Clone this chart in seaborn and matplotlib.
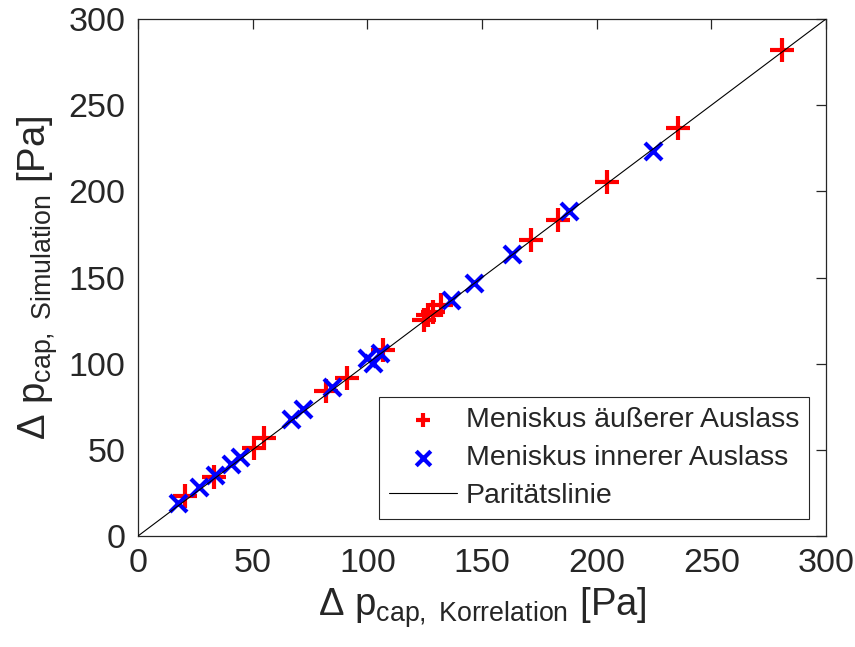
import matplotlib
matplotlib.use("Agg")
import matplotlib.pyplot as plt
import numpy as np
import pandas as pd
import seaborn as sns

# Meniskus am äußeren Auslass: Korrelation vs. Simulation [Pa]
outer_corr = [20.5, 33.0, 50.5, 55.0, 82.0, 91.0, 107.0, 124.5, 126.5, 128.5, 132.0,
              171.5, 183.0, 204.5, 235.5, 281.0]
outer_sim = [23.5, 34.0, 51.0, 57.0, 84.0, 91.5, 108.0, 125.5, 128.0, 130.0, 134.0,
             172.0, 183.5, 205.5, 236.5, 282.0]

# Meniskus am inneren Auslass
inner_corr = [17.5, 26.5, 33.5, 40.5, 44.5, 66.5, 72.0, 84.5, 100.0, 102.5, 105.5,
              136.5, 146.5, 163.0, 188.0, 224.5]
inner_sim = [19.0, 28.5, 35.5, 42.0, 46.0, 68.0, 73.5, 86.5, 103.0, 100.5, 106.0,
             137.0, 147.0, 163.5, 188.5, 223.5]

parity = [0, 300]
ticks = [0, 50, 100, 150, 200, 250, 300]

labels = ["Meniskus äußerer Auslass", "Meniskus innerer Auslass", "Paritätslinie"]

sns.set_theme(style="white")
plt.rcParams["font.family"] = ["Liberation Sans", "DejaVu Sans"]
plt.rcParams["mathtext.fontset"] = "custom"
plt.rcParams["mathtext.rm"] = "Liberation Sans"
plt.rcParams["mathtext.it"] = "Liberation Sans"
plt.rcParams["mathtext.default"] = "regular"

fig = plt.figure(figsize=(8.55, 6.47), dpi=100)
ax = fig.add_axes([138 / 855, 1 - 536 / 647, (826 - 138) / 855, (536 - 19) / 647])

df_outer = pd.DataFrame({"x": outer_corr, "y": outer_sim})
df_inner = pd.DataFrame({"x": inner_corr, "y": inner_sim})
df_par = pd.DataFrame({"x": parity, "y": parity})

sns.scatterplot(data=df_outer, x="x", y="y", marker="+", color="#ff0000",
                s=300, linewidth=3.0, ax=ax, label=labels[0], zorder=3)
sns.scatterplot(data=df_inner, x="x", y="y", marker="x", color="#0000ff",
                s=150, linewidth=3.0, ax=ax, label=labels[1], zorder=3)
sns.lineplot(data=df_par, x="x", y="y", color="black", linewidth=0.8,
             ax=ax, label=labels[2], zorder=4)

ax.set_xlim(0, 300)
ax.set_ylim(0, 300)
ax.set_xticks(ticks)
ax.set_yticks(ticks)

edge = "#262626"
for sp in ax.spines.values():
    sp.set_visible(True)
    sp.set_color(edge)
    sp.set_linewidth(0.9)
ax.tick_params(direction="in", length=7, width=0.9, colors=edge, labelsize=24.5,
               top=True, right=True, pad=9)
for t in ax.get_xticklabels() + ax.get_yticklabels():
    t.set_color(edge)

ax.set_xlabel(r"$\Delta$ p$_{\mathregular{cap,\ Korrelation}}$ [Pa]", fontsize=27.5,
              color=edge, labelpad=4)
ax.set_ylabel(r"$\Delta$ p$_{\mathregular{cap,\ Simulation}}$ [Pa]", fontsize=27.5,
              color=edge, labelpad=6)

leg = ax.legend(loc="lower right", fontsize=20.5, frameon=True, fancybox=False,
                edgecolor=edge, framealpha=1, borderpad=0.35, labelspacing=0.42,
                handlelength=2.4, handletextpad=0.3, borderaxespad=0.6)
leg.get_frame().set_linewidth(0.8)
for h in leg.legend_handles[:2]:
    h.set_sizes([110])

fig.savefig("out.png", dpi=100)
